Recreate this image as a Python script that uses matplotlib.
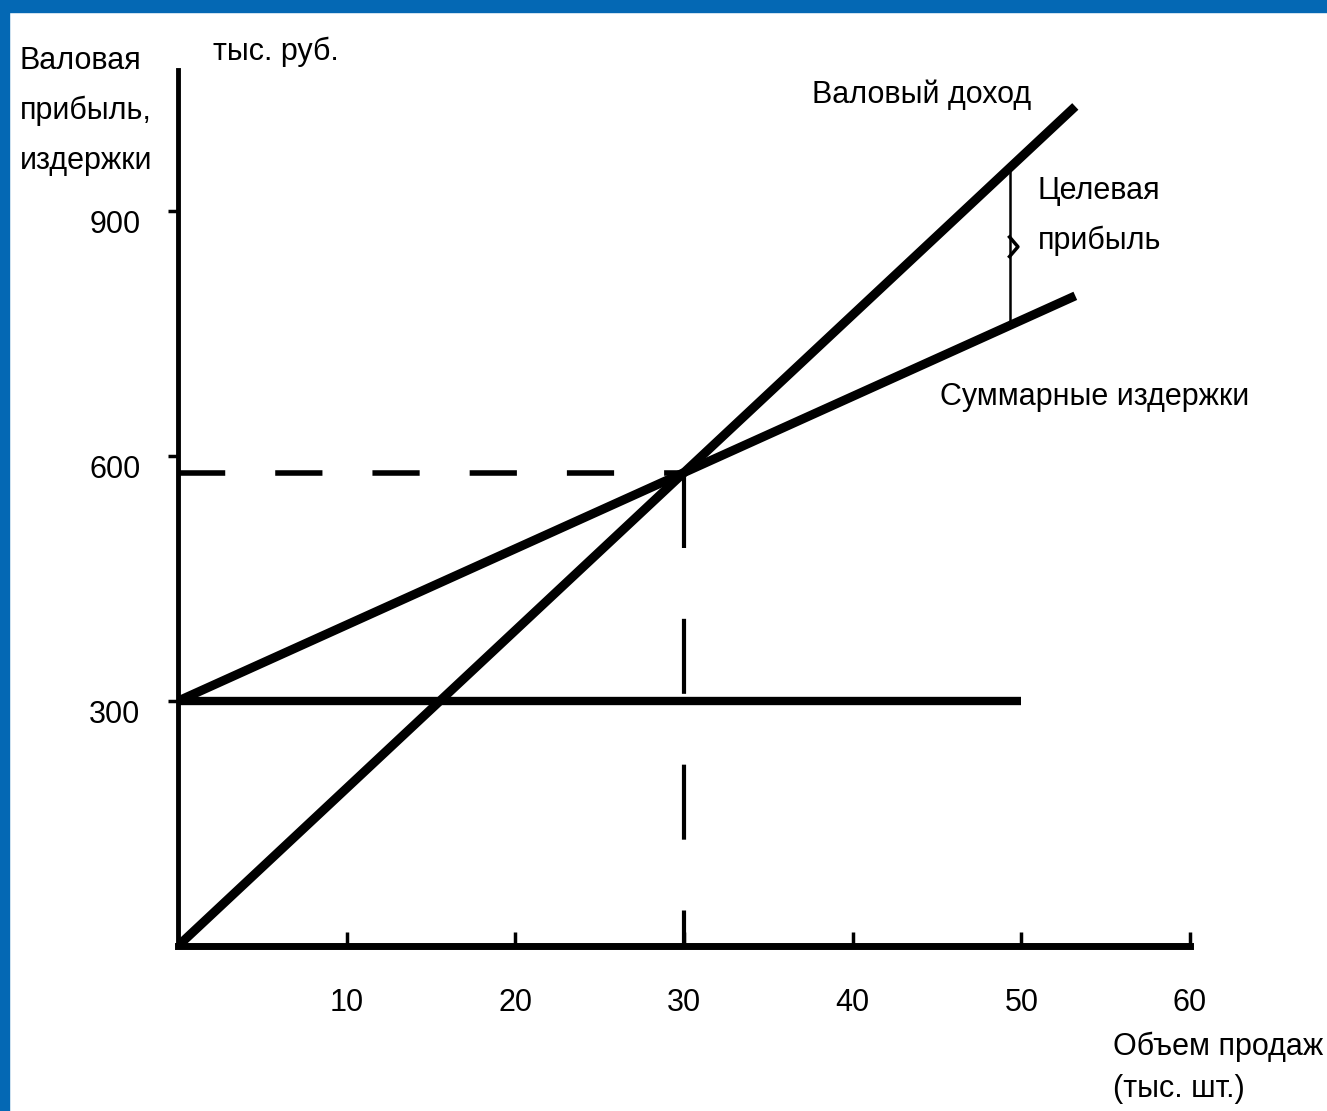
import numpy as np
import matplotlib.pyplot as plt
import matplotlib.transforms as mtransforms
from matplotlib.patches import Rectangle

plt.rcParams['font.family'] = ['Liberation Sans', 'DejaVu Sans']

# Данные (тыс. шт. / тыс. руб.)
volume = np.array([0, 53.2])           # объем продаж для линий
fixed_cost = 300                        # постоянные издержки
variable_cost = 9.33                    # переменные издержки на ед.
price = 19.33                           # цена за ед.
fixed_end = 50                          # конец линии постоянных издержек
breakeven_x = 30
profit_x = 49.3                         # где показана целевая прибыль
x_ticks = [10, 20, 30, 40, 50, 60]
y_ticks = [300, 600, 900]

revenue = price * volume
total_cost = fixed_cost + variable_cost * volume
breakeven_y = price * breakeven_x

W, H = 1327, 1111
fig = plt.figure(figsize=(W / 100, H / 100), dpi=100)

# синяя рамка слайда
fig.patches.append(Rectangle((0, 1 - 12 / H), 1, 12 / H, transform=fig.transFigure,
                             color='#0468b4', zorder=0))
fig.patches.append(Rectangle((0, 0), 9 / W, 1, transform=fig.transFigure,
                             color='#0468b4', zorder=0))

ax = fig.add_axes([178 / W, (H - 946) / H, (1190 - 178) / W, (946 - 70) / H])
ax.set_xlim(0, 60)
ax.set_ylim(0, 1073)

ax.plot(volume, revenue, color='black', lw=6.5, solid_capstyle='butt')
ax.plot(volume, total_cost, color='black', lw=6.5, solid_capstyle='butt')
ax.plot([0, fixed_end], [fixed_cost, fixed_cost], color='black', lw=6, solid_capstyle='butt')

# точка безубыточности
ax.plot([0, breakeven_x], [breakeven_y, breakeven_y], color='black', lw=4,
        dashes=(8.5, 9))
ax.plot([breakeven_x, breakeven_x], [breakeven_y, 0], color='black', lw=3,
        dashes=(18, 17))

# целевая прибыль
top = price * profit_x
bot = fixed_cost + variable_cost * profit_x
mid = (top + bot) / 2
ax.plot([profit_x, profit_x], [bot, top], color='black', lw=1.8)
ax.plot([profit_x, profit_x + 0.5, profit_x], [mid + 12, mid, mid - 12], color='black', lw=2.5)

for s in ['top', 'right']:
    ax.spines[s].set_visible(False)
ax.spines['bottom'].set_linewidth(5)
ax.spines['left'].set_linewidth(3.5)

ax.set_xticks(x_ticks)
ax.set_xticklabels([str(v) for v in x_ticks])
ax.set_yticks(y_ticks)
ax.set_yticklabels([str(v) for v in y_ticks])
ax.tick_params(axis='x', direction='in', length=10, width=2.5, pad=30, labelsize=22)
ax.tick_params(axis='y', direction='out', length=7, width=2.5, pad=20, labelsize=22)
off = mtransforms.ScaledTranslation(0, -0.1, fig.dpi_scale_trans)
for lab in ax.get_yticklabels():
    lab.set_transform(lab.get_transform() + off)


def put(x, y, s, **kw):
    fig.text(x / W, 1 - y / H, s, fontsize=22, **kw)


put(20, 46, 'Валовая\nприбыль,\nиздержки', va='top', linespacing=1.85)
put(213, 52, 'тыс. руб.', va='center')
put(812, 95, 'Валовый доход', va='center')
put(1038, 216, 'Целевая\nприбыль', va='center', linespacing=1.85)
put(940, 397, 'Суммарные издержки', va='center')
put(1113, 1068, 'Объем продаж\n(тыс. шт.)', va='center', linespacing=1.5)

fig.savefig('out.png', dpi=100)
